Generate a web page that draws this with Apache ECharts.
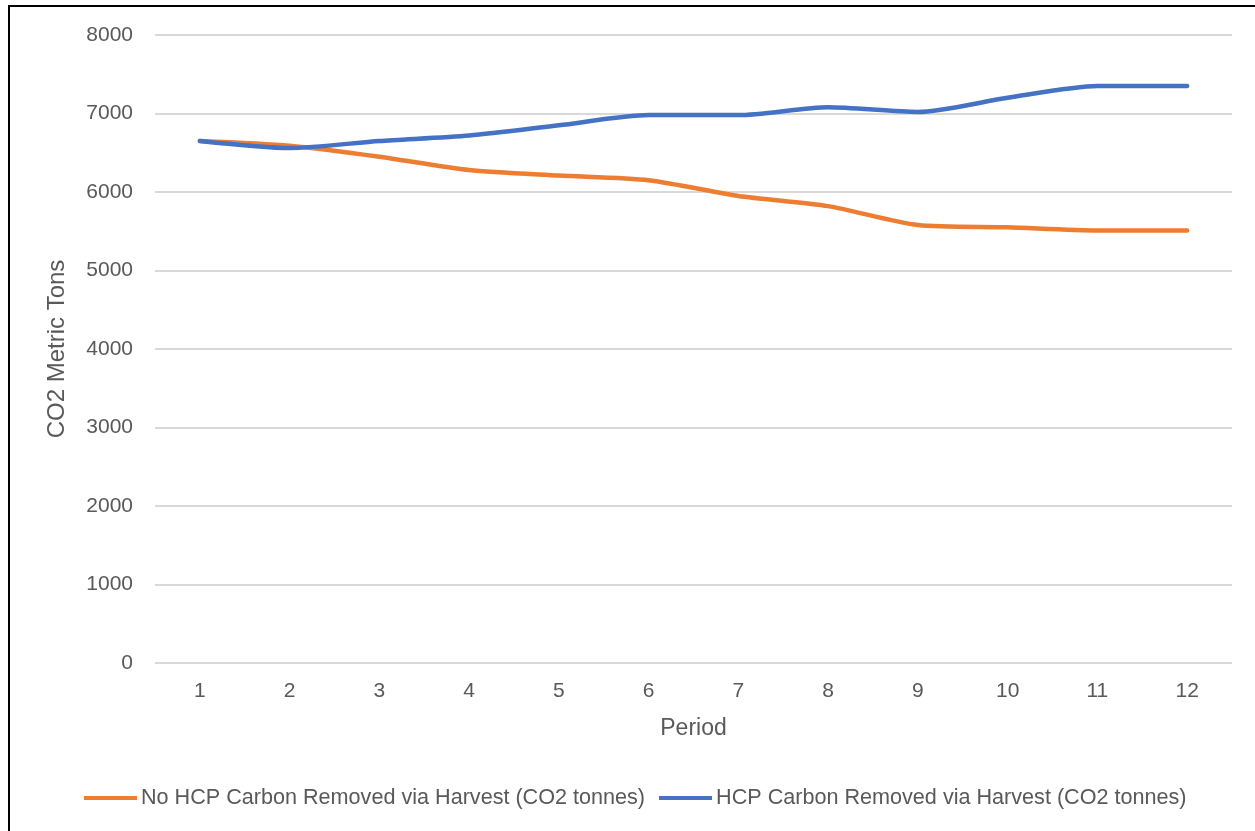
<!DOCTYPE html>
<html>
<head>
<meta charset="utf-8">
<script src="https://cdn.jsdelivr.net/npm/echarts@6/dist/echarts.min.js"></script>
<style>
html,body{margin:0;padding:0;background:#fff;}
#chart{width:1255px;height:831px;}
</style>
</head>
<body>
<div id="chart"></div>
<script>
const periods = ['1','2','3','4','5','6','7','8','9','10','11','12'];
const noHcpSeries = [6650, 6590, 6450, 6280, 6210, 6150, 5950, 5820, 5580, 5550, 5510, 5510];
const hcpSeries = [6650, 6560, 6650, 6720, 6850, 6980, 6980, 7080, 7020, 7200, 7350, 7350];
const seriesNames = ['No HCP Carbon Removed via Harvest (CO2 tonnes)', 'HCP Carbon Removed via Harvest (CO2 tonnes)'];
const yTicks = {min: 0, max: 8000, interval: 1000};

const FONT = '"Liberation Sans", Arial, sans-serif';
const TXT = '#595959';
const chart = echarts.init(document.getElementById('chart'), null, {renderer: 'canvas'});
chart.setOption({
  animation: false,
  backgroundColor: '#fff',
  textStyle: {fontFamily: FONT, color: TXT},
  graphic: [{
    type: 'rect',
    shape: {x: 9, y: 6, width: 1300, height: 900},
    style: {fill: null, stroke: '#000', lineWidth: 2},
    silent: true
  }],
  grid: {left: 155, right: 23, top: 35, bottom: 168, containLabel: false},
  legend: {
    left: 79, top: 782,
    itemWidth: 53, itemHeight: 4, itemGap: 14,
    icon: 'rect',
    textStyle: {fontFamily: FONT, fontSize: 21.6, color: TXT, padding: [0, 0, 0, -1]},
    data: seriesNames
  },
  xAxis: {
    type: 'category',
    data: periods,
    boundaryGap: true,
    name: 'Period',
    nameLocation: 'middle',
    nameGap: 54,
    nameTextStyle: {fontFamily: FONT, fontSize: 23, color: TXT},
    axisLine: {show: false},
    axisTick: {show: false},
    axisLabel: {fontFamily: FONT, fontSize: 21, color: TXT, margin: 18}
  },
  yAxis: {
    type: 'value',
    min: yTicks.min, max: yTicks.max, interval: yTicks.interval,
    name: 'CO2 Metric Tons',
    nameLocation: 'middle',
    nameGap: 86,
    nameTextStyle: {fontFamily: FONT, fontSize: 24, color: TXT},
    axisLine: {show: false},
    axisTick: {show: false},
    axisLabel: {fontFamily: FONT, fontSize: 21, color: TXT, margin: 22, formatter: function (v) { return String(v); }},
    splitLine: {lineStyle: {color: '#d9d9d9', width: 2}}
  },
  series: [
    {
      name: seriesNames[0], type: 'line', data: noHcpSeries,
      smooth: 0.25, showSymbol: false, symbol: 'none',
      lineStyle: {color: '#ED7D31', width: 4.5, cap: 'round'},
      itemStyle: {color: '#ED7D31'}
    },
    {
      name: seriesNames[1], type: 'line', data: hcpSeries,
      smooth: 0.25, showSymbol: false, symbol: 'none',
      lineStyle: {color: '#4472C4', width: 4.5, cap: 'round'},
      itemStyle: {color: '#4472C4'}
    }
  ]
});
</script>
</body>
</html>
